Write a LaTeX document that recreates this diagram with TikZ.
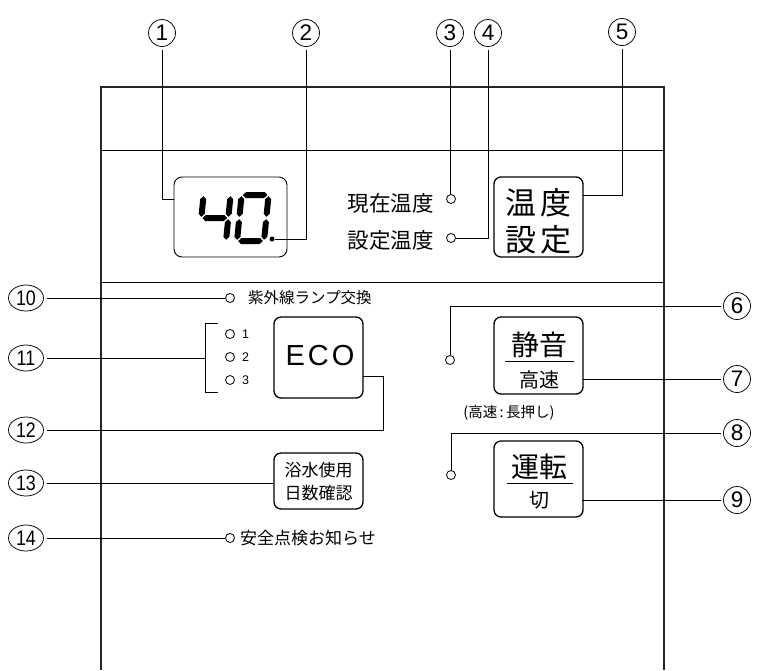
\documentclass[tikz,border=0pt]{standalone}
\usepackage{fontspec}
\usepackage{graphicx}
\setmainfont{Liberation Sans}
\newfontfamily\jp{Noto Sans CJK JP}
\usetikzlibrary{shapes.geometric}
\newcommand\myfs[1]{\fontsize{#1}{#1}\selectfont}
\newcommand\hsg[3]{\fill ({#1+1.2},{#3}) -- ({#1+4.2},{#3-3}) -- ({#2-4.2},{#3-3}) -- ({#2-1.2},{#3}) -- ({#2-4.2},{#3+3}) -- ({#1+4.2},{#3+3}) -- cycle;}
\newcommand\vsg[3]{\fill ({#1},{#2+1.2}) -- ({#1+3},{#2+4.2}) -- ({#1+3},{#3-4.2}) -- ({#1},{#3-1.2}) -- ({#1-3},{#3-4.2}) -- ({#1-3},{#2+4.2}) -- cycle;}
\tikzset{
  cn/.style={circle, draw, line width=0.75pt, minimum size=27pt, inner sep=0pt, outer sep=3pt, font=\myfs{22.5}},
  cnw/.style={ellipse, draw, line width=0.75pt, minimum width=35pt, minimum height=26pt, inner sep=0pt, outer sep=3pt, font=\myfs{21}},
  btn/.style={draw, line width=1.3pt, rounded corners=7pt, inner sep=0pt, minimum width=89pt},
  led/.style={circle, draw, line width=0.8pt, minimum size=9pt, inner sep=0pt},
  lead/.style={line width=0.8pt},
  jt/.style={inner sep=0pt, font=\jp},
  panel/.style={line width=1.6pt, black!85},
  sep/.style={line width=1pt}
}
\begin{document}
\begin{tikzpicture}[x=1pt,y=-1pt]
\useasboundingbox (0,0) rectangle (757,670);
% panel
\draw[panel] (101,670) -- (101,87) -- (664,87) -- (664,670);
\draw[sep] (101,150) -- (664,150);
\draw[sep] (101,282) -- (664,282);

% display
\node[draw, line width=0.9pt, rounded corners=8pt, minimum width=113pt, minimum height=80pt] (disp) at (230.5,217) {};
\begin{scope}[shift={(199,241)}, xslant=0.1]
  \vsg{0}{-46}{-23} \hsg{0}{27}{-23} \vsg{27}{-46}{-23} \vsg{27}{-23}{0}
\end{scope}
\begin{scope}[shift={(237,241)}, xslant=0.1]
  \hsg{0}{27}{-46} \vsg{27}{-46}{-23} \vsg{27}{-23}{0} \hsg{0}{27}{0} \vsg{0}{-23}{0} \vsg{0}{-46}{-23}
\end{scope}
\node[circle, fill, inner sep=0pt, minimum size=5pt] (dot) at (272,239) {};

% temperature labels
\node[jt, font=\jp\myfs{21.5}, anchor=east] (lbl3) at (434,203) {現在温度};
\node[jt, font=\jp\myfs{21.5}, anchor=east] (lbl4) at (434,240) {設定温度};
\node[led] (led3) at (451,199) {};
\node[led] (led4) at (451,238) {};

% buttons
\node[btn, minimum height=80pt] (btnT) at (538.5,217) {};
\node[jt, font=\jp\myfs{31}] at (538.5,203) {温\hspace{4pt}度};
\node[jt, font=\jp\myfs{31}] at (538.5,240) {設\hspace{4pt}定};

\node[btn, minimum height=81pt] (eco) at (318.5,357.5) {};
\node[inner sep=0pt, font=\myfs{29}] at (320,356) {E\hspace{3pt}C\hspace{3pt}O};

\node[btn, minimum height=56pt] (btnY) at (318.5,481) {};
\node[jt, font=\jp\myfs{17}] at (318.5,470) {浴水使用};
\node[jt, font=\jp\myfs{17}] at (318.5,493) {日数確認};

\node[btn, minimum height=77pt] (btnS) at (538.5,355.5) {};
\node[jt, font=\jp\myfs{28}] at (539,345) {静音};
\draw[line width=1pt] (505,361) -- (574,361);
\node[jt, font=\jp\myfs{20}] at (539,380) {高速};
\node[jt, font=\jp\myfs{14.5}] at (509,413) {(高速\,:\,長押し)};

\node[btn, minimum height=76pt] (btnR) at (538.5,479) {};
\node[jt, font=\jp\myfs{28}] at (539,467) {運転};
\draw[line width=1pt] (507,483) -- (573,483);
\node[jt, font=\jp\myfs{20}] at (539,500) {切};

% LEDs
\node[led] (led6) at (450,360) {};
\node[led] (led8) at (451,475) {};
\node[led] (led10) at (230,298) {};
\node[jt, font=\jp\myfs{15.5}, anchor=west] at (248,298) {紫外線ランプ交換};
\node[led] (ledA) at (230,334) {};
\node[led] (ledB) at (230,357) {};
\node[led] (ledC) at (230,380) {};
\node[inner sep=0pt, font=\myfs{12.5}, anchor=west] at (242,334) {1};
\node[inner sep=0pt, font=\myfs{12.5}, anchor=west] at (242,357) {2};
\node[inner sep=0pt, font=\myfs{12.5}, anchor=west] at (242,380) {3};
\node[led] (led14) at (230,538) {};
\node[jt, font=\jp\myfs{17}, anchor=west] at (240,538) {安全点検お知らせ};

% circled numbers
\node[cn] (n1) at (162,33) {1};
\node[cn] (n2) at (306,33) {2};
\node[cn] (n3) at (450,33) {3};
\node[cn] (n4) at (488,33) {4};
\node[cn] (n5) at (622,32) {5};
\node[cn] (n6) at (737,306) {6};
\node[cn] (n7) at (737,379) {7};
\node[cn] (n8) at (737,433) {8};
\node[cn] (n9) at (737,500) {9};
\node[cnw] (n10) at (26,298) {\scalebox{0.85}[1]{10}};
\node[cnw] (n11) at (26,358) {\scalebox{0.85}[1]{11}};
\node[cnw] (n12) at (26,430) {\scalebox{0.85}[1]{12}};
\node[cnw] (n13) at (26,483) {\scalebox{0.85}[1]{13}};
\node[cnw] (n14) at (26,538) {\scalebox{0.85}[1]{14}};

% leader coordinates
\coordinate (d1) at (174,199);
\coordinate (t5) at (583,195);
\coordinate (s7) at (583,379);
\coordinate (r9) at (582,500);
\coordinate (b11) at (205,358);
\coordinate (k12) at (383,430);
\coordinate (e12) at (363,376);

% leaders
\draw[lead] (n1.south) |- (d1);
\draw[lead] (n2.south) |- (dot.east);
\draw[lead] (n3.south) -- (n3.south |- led3.north);
\draw[lead] (n4.south) |- (led4.east);
\draw[lead] (n5.south) |- (t5);
\draw[lead] (n6.west) -| (led6.north);
\draw[lead] (n7.west) -- (s7);
\draw[lead] (n8.west) -| (led8.north);
\draw[lead] (n9.west) -- (r9);
\draw[lead] (n10.east) -- (led10.west);
\draw[lead] (n11.east) -- (b11);
\draw[lead] (218,323) -- (205,323) -- (205,392) -- (218,392);
\draw[lead] (n12.east) -- (k12) |- (e12);
\draw[lead] (n13.east) -- (n13.east -| btnY.west);
\draw[lead] (n14.east) -- (led14.west);
\end{tikzpicture}
\end{document}
